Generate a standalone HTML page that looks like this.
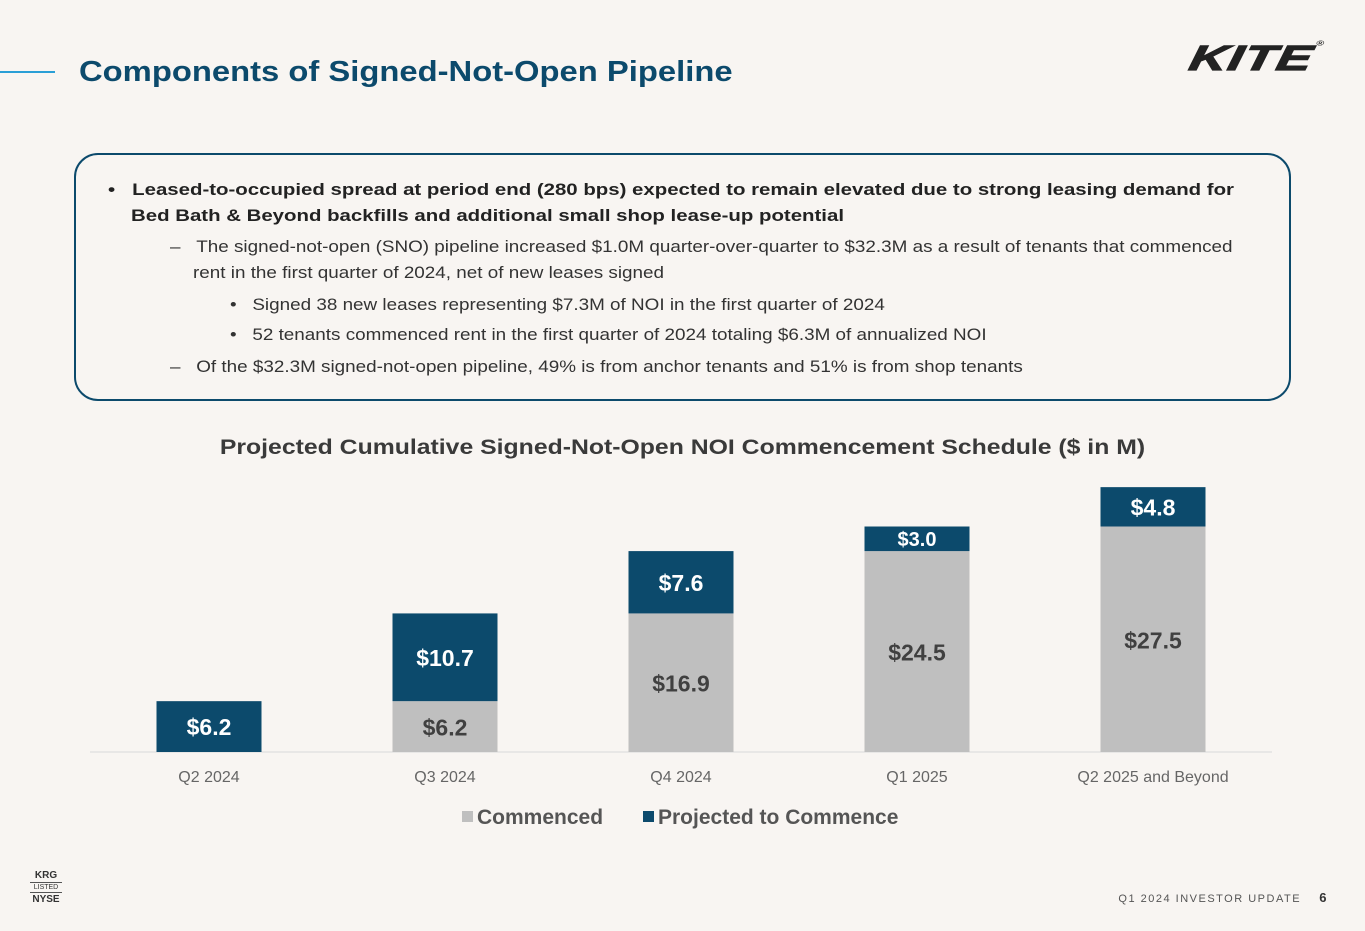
<!DOCTYPE html>
<html><head><meta charset="utf-8">
<style>
body{margin:0;width:1365px;height:931px;background:#f8f5f2;font-family:"Liberation Sans",sans-serif;position:relative;overflow:hidden}
.abs{position:absolute}
#title{left:79px;top:56px;font-size:29px;font-weight:bold;color:#0c4a6c;transform:scaleX(1.13);transform-origin:left}
#rule{left:0;top:71px;width:55px;height:2px;background:#2a9fd6}
#box{left:74px;top:153px;width:1213px;height:244px;border:2px solid #0c4a6c;border-radius:24px}
.t{position:absolute;font-size:17px;color:#333;white-space:nowrap;transform-origin:left;transform:scaleX(1.11)}
.b{font-weight:bold;color:#222;transform:scaleX(1.2)}
#ctitle{left:0;width:1365px;top:436px;text-align:center;font-size:21px;font-weight:bold;color:#3a3a3a;transform:scaleX(1.18)}
</style></head><body>
<div class="abs" id="rule"></div>
<div class="abs" id="title">Components of Signed-Not-Open Pipeline</div>
<div class="abs" style="left:1190px;top:34px;font-size:44px;font-weight:900;font-style:italic;color:#222;letter-spacing:1px;transform:skewX(-12deg) scaleX(1.18) scaleY(.8);transform-origin:left;font-family:'Liberation Sans',sans-serif;-webkit-text-stroke:1.5px #222">KITE<span style="font-size:9px;vertical-align:top;font-style:normal;-webkit-text-stroke:0">®</span></div>
<div class="abs" id="box"></div>
<div class="t b" style="left:108px;top:180px">•&nbsp;&nbsp;&nbsp;Leased-to-occupied spread at period end (280 bps) expected to remain elevated due to strong leasing demand for</div>
<div class="t b" style="left:131px;top:206px">Bed Bath &amp; Beyond backfills and additional small shop lease-up potential</div>
<div class="t" style="left:170px;top:237px">–&nbsp;&nbsp;&nbsp;The signed-not-open (SNO) pipeline increased $1.0M quarter-over-quarter to $32.3M as a result of tenants that commenced</div>
<div class="t" style="left:193px;top:263px">rent in the first quarter of 2024, net of new leases signed</div>
<div class="t" style="left:230px;top:295px">•&nbsp;&nbsp;&nbsp;Signed 38 new leases representing $7.3M of NOI in the first quarter of 2024</div>
<div class="t" style="left:230px;top:325px">•&nbsp;&nbsp;&nbsp;52 tenants commenced rent in the first quarter of 2024 totaling $6.3M of annualized NOI</div>
<div class="t" style="left:170px;top:357px">–&nbsp;&nbsp;&nbsp;Of the $32.3M signed-not-open pipeline, 49% is from anchor tenants and 51% is from shop tenants</div>
<div class="abs" id="ctitle">Projected Cumulative Signed-Not-Open NOI Commencement Schedule ($ in M)</div>
<svg class="abs" style="left:0;top:0" width="1365" height="931" id="chart"></svg>
<div class="abs" style="left:30px;top:869px;width:32px;text-align:center;color:#333;font-weight:bold;font-size:10px;line-height:13px">KRG<div style="font-weight:normal;font-size:7px;border-top:1px solid #555;border-bottom:1px solid #555;line-height:9px">LISTED</div>NYSE</div>
<div class="abs" style="right:37px;top:890px;font-size:11px;color:#555;letter-spacing:1.5px">Q1 2024 INVESTOR UPDATE&nbsp;&nbsp;&nbsp;&nbsp;<b style="font-size:13px;color:#333">6</b></div>
<script>
const categories=["Q2 2024","Q3 2024","Q4 2024","Q1 2025","Q2 2025 and Beyond"];
const commenced=[0,6.2,16.9,24.5,27.5];
const projected=[6.2,10.7,7.6,3.0,4.8];
const svg=document.getElementById('chart');const NS='http://www.w3.org/2000/svg';
const base=752,scale=8.2,x0=209,step=236,bw=105;
const y=v=>base-v*scale;const cx=i=>x0+i*step;
function mk(t,a){const e=document.createElementNS(NS,t);for(const k in a)e.setAttribute(k,a[k]);svg.appendChild(e);return e;}
const ax=mk('line',{x1:90,x2:1272,y1:base,y2:base,stroke:'#d9d9d9','stroke-width':1});


categories.forEach((c,i)=>{
  if(commenced[i]>0){
    const r=mk('rect',{x:cx(i)-bw/2,y:y(commenced[i]),width:bw,height:commenced[i]*scale,fill:'#bfbfbf'});
    
    
    const t=mk('text',{x:cx(i),y:(y(commenced[i])+base)/2+9,'text-anchor':'middle','font-size':23,'font-weight':'bold',fill:'#404040'});
    t.textContent='$'+commenced[i].toFixed(1);
    
    
  }
  const top=commenced[i]+projected[i];
  const r2=mk('rect',{x:cx(i)-bw/2,y:y(top),width:bw,height:projected[i]*scale,fill:'#0c4a6c'});
  
  
  const fs=projected[i]<4?20:23;
  const t2=mk('text',{x:cx(i),y:(y(top)+y(commenced[i]))/2+fs*0.37,'text-anchor':'middle','font-size':fs,'font-weight':'bold',fill:'#fff'});
  t2.textContent='$'+projected[i].toFixed(1);
  
  
  const l=mk('text',{x:cx(i),y:782,'text-anchor':'middle','font-size':16,fill:'#666'});
  l.textContent=c;
  
  
});
const lg=[['Commenced','#bfbfbf',462],['Projected to Commence','#0c4a6c',643]];
lg.forEach((d,i)=>{
  const r=mk('rect',{x:d[2],y:811,width:11,height:11,fill:d[1]});
  
  
  const t=mk('text',{x:d[2]+15,y:824,'font-size':21,'font-weight':'bold',fill:'#555'});
  t.textContent=d[0];
  
  
});
</script>
</body></html>
